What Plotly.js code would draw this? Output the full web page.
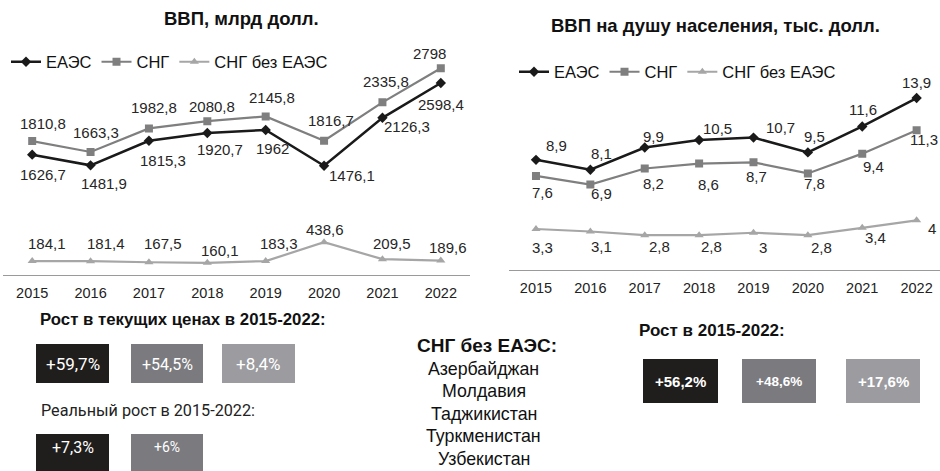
<!DOCTYPE html>
<html>
<head>
<meta charset="utf-8">
<script src="https://cdn.plot.ly/plotly-3.0.1.min.js"></script>
<style>html,body{margin:0;padding:0;background:#fff;}#chart{width:940px;height:471px;}</style>
</head>
<body>
<div id="chart"></div>
<script>
// ---- DATA ----
const years = ["2015","2016","2017","2018","2019","2020","2021","2022"];
const seriesNames = ["ЕАЭС", "СНГ", "СНГ без ЕАЭС"];
// GDP, bn USD
const gdpEAEU = [1626.7, 1481.9, 1815.3, 1920.7, 1962, 1476.1, 2126.3, 2598.4];
const gdpCIS = [1810.8, 1663.3, 1982.8, 2080.8, 2145.8, 1816.7, 2335.8, 2798];
const gdpCISnoEAEU = [184.1, 181.4, 167.5, 160.1, 183.3, 438.6, 209.5, 189.6];
// GDP per capita, thousand USD
const pcEAEU = [8.9, 8.1, 9.9, 10.5, 10.7, 9.5, 11.6, 13.9];
const pcCIS = [7.6, 6.9, 8.2, 8.6, 8.7, 7.8, 9.4, 11.3];
const pcCISnoEAEU = [3.3, 3.1, 2.8, 2.8, 3, 2.8, 3.4, 4];
// Growth boxes
const growthCurrent = ["+59,7%", "+54,5%", "+8,4%"];
const growthReal = ["+7,3%", "+6%"];
const growthPerCapita = ["+56,2%", "+48,6%", "+17,6%"];
const countries = ["Азербайджан", "Молдавия", "Таджикистан", "Туркменистан", "Узбекистан"];

// ---- STYLE ----
const W = 940, H = 471;
const px = v => v / W;
const py = v => (H - v) / H;
const colors = ["#1a1a1a", "#7f7f7f", "#a6a6a6"];
const symbols = ["diamond", "square", "triangle-up"];
const msize = [8, 8, 8];
const lwidth = [2.5, 2.2, 2.2];
const boxColors = ["#1f1e1c", "#7b7b7f", "#9b9ba0"];
const txtColor = "#262626";

// label offsets (dx, dy in px, screen coords)
const offL = [
  [[11,20],[13,18],[14,20],[13,17],[7,19],[28,10],[25,9],[0,21]],
  [[11,-18],[5,-19],[5,-21],[5,-15],[6,-19],[7,-20],[4,-21],[-11,-15]],
  [[15,-18],[15,-18],[14,-19],[13,-12],[13,-18],[1,-13],[10,-16],[7,-13]]
];
const offR = [
  [[21,-14],[11,-16],[9,-11],[18,-12],[27,-10],[7,-16],[1,-17],[0,-16]],
  [[7,17],[11,9],[9,15],[9,21],[3,14],[7,10],[11,13],[7,9]],
  [[7,18],[11,15],[15,11],[12,11],[10,15],[14,12],[13,10],[15,8]]
];

const fmt = v => String(v).replace('.', ',');

const leftData = [gdpEAEU, gdpCIS, gdpCISnoEAEU];
const rightData = [pcEAEU, pcCIS, pcCISnoEAEU];

const traces = [];
const annotations = [];
function addSeries(data, xa, ya, leg, offs) {
  data.forEach((vals, k) => {
    traces.push({
      type: 'scatter', mode: 'lines+markers',
      x: years, y: vals, xaxis: xa, yaxis: ya,
      name: seriesNames[k], legend: leg,
      line: {color: colors[k], width: lwidth[k]},
      marker: {color: colors[k], symbol: symbols[k], size: msize[k]},
      hoverinfo: 'skip'
    });
    vals.forEach((v, i) => {
      annotations.push({
        xref: xa, yref: ya, x: i, y: v, text: fmt(v), showarrow: false,
        xanchor: 'center', yanchor: 'middle',
        xshift: offs[k][i][0], yshift: -offs[k][i][1],
        font: {family: 'Arial, Liberation Sans, sans-serif', size: 15, color: txtColor}
      });
    });
  });
}
addSeries(leftData, 'x', 'y', 'legend', offL);
addSeries(rightData, 'x2', 'y2', 'legend2', offR);

function txt(x, y, text, size, opts) {
  annotations.push(Object.assign({
    xref: 'paper', yref: 'paper', x: px(x), y: py(y), text: text, showarrow: false,
    xanchor: 'center', yanchor: 'middle',
    font: {family: 'Arial, Liberation Sans, sans-serif', size: size, color: '#111'}
  }, opts || {}));
}
// titles
txt(241, 19, '<b>ВВП, млрд долл.</b>', 18.5);
txt(715, 26, '<b>ВВП на душу населения, тыс. долл.</b>', 18.5);

const shapes = [];
function box(x0, x1, y0, y1, color) {
  shapes.push({type: 'rect', xref: 'paper', yref: 'paper', x0: px(x0), x1: px(x1), y0: py(y1), y1: py(y0),
    fillcolor: color, line: {width: 0}, layer: 'above'});
}
// left bottom
txt(38, 319, '<b>Рост в текущих ценах в 2015-2022:</b>', 16.8, {xanchor: 'left'});
const row1 = [[36,109],[131,203],[222,295]];
const row1Size = [17, 16, 17];
growthCurrent.forEach((t, i) => {
  box(row1[i][0], row1[i][1], 344, 383, boxColors[i]);
  txt((row1[i][0]+row1[i][1])/2, 364, t, 17, {font: {family: 'Roboto, sans-serif', size: row1Size[i], color: '#fff'}});
});
txt(39, 410, 'Реальный рост в 2015-2022:', 16.2, {xanchor: 'left', font: {family: 'Roboto, sans-serif', size: 16.2, color: '#222'}});
const row2Size = [16, 14];
growthReal.forEach((t, i) => {
  box(row1[i][0], row1[i][1], 434, 474, boxColors[i]);
  txt((row1[i][0]+row1[i][1])/2, 447, t, 16, {font: {family: 'Roboto, sans-serif', size: row2Size[i], color: '#fff'}});
});
// middle list
txt(487, 345, '<b>СНГ без ЕАЭС:</b>', 19);
countries.forEach((c, i) => txt(484, 369 + i * 22.4, c, 17.8));
// right bottom
txt(637, 330, '<b>Рост в 2015-2022:</b>', 17, {xanchor: 'left'});
const rowR = [[643,718],[742,816],[846,920]];
const rowRSize = [15, 13.5, 15];
growthPerCapita.forEach((t, i) => {
  box(rowR[i][0], rowR[i][1], 359, 403, boxColors[i]);
  txt((rowR[i][0]+rowR[i][1])/2, 381, '<b>' + t + '</b>', 15, {font: {family: 'Arial, sans-serif', size: rowRSize[i], color: '#fff'}});
});

const xaxisBase = {
  type: 'category', showgrid: false, zeroline: false, showline: true,
  linecolor: '#9a9a9a', linewidth: 1.5,
  ticks: 'outside', ticklen: 4, tickcolor: 'rgba(0,0,0,0)',
  tickfont: {family: 'Arial, sans-serif', size: 14.5, color: '#222'},
  fixedrange: true
};
const yaxisBase = {showgrid: false, zeroline: false, showline: false, showticklabels: false, ticks: '', fixedrange: true};

const layout = {
  width: W, height: H, autosize: false,
  margin: {l: 0, r: 0, t: 0, b: 0, pad: 0},
  paper_bgcolor: '#fff', plot_bgcolor: 'rgba(0,0,0,0)',
  showlegend: true,
  xaxis: Object.assign({}, xaxisBase, {domain: [px(3), px(470)], range: [-0.5, 7.5], anchor: 'y'}),
  yaxis: Object.assign({}, yaxisBase, {domain: [py(274.6), py(53.4)], range: [0, 3000], anchor: 'x'}),
  xaxis2: Object.assign({}, xaxisBase, {domain: [px(508.8), 1], range: [-0.5, 7.43], anchor: 'y2'}),
  yaxis2: Object.assign({}, yaxisBase, {domain: [py(269.8), py(72.1)], range: [0, 16], anchor: 'x2'}),
  legend: {orientation: 'h', x: px(6), y: py(62), xanchor: 'left', yanchor: 'middle',
    font: {family: 'Arial, sans-serif', size: 16.5, color: '#111'}, bgcolor: 'rgba(0,0,0,0)', itemwidth: 30},
  legend2: {orientation: 'h', x: px(514), y: py(72), xanchor: 'left', yanchor: 'middle',
    font: {family: 'Arial, sans-serif', size: 16.5, color: '#111'}, bgcolor: 'rgba(0,0,0,0)', itemwidth: 30},
  annotations: annotations,
  shapes: shapes
};

Plotly.newPlot('chart', traces, layout, {displayModeBar: false, staticPlot: true});
</script>
</body>
</html>
